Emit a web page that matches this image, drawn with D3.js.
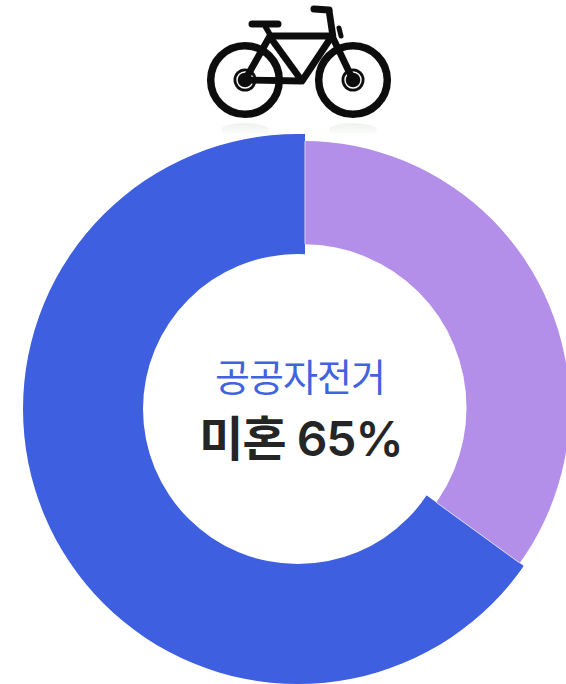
<!DOCTYPE html>
<html><head><meta charset="utf-8"><script src="https://cdn.jsdelivr.net/npm/d3@7"></script>
<style>html,body{margin:0;padding:0;background:#fff;overflow:hidden}svg{display:block}</style></head><body><svg id="c" width="566" height="684"></svg>
<script>
const categories=["미혼","기혼"];
const values=[65,35];
const colors=["#3d5fe0","#b48fe9"];
const centerTitle="공공자전거";
const centerValue="미혼 65%";
const svg=d3.select("#c");
const defs=svg.append("defs");
const ink="#111";
defs.append("filter").attr("id","soft").append("feGaussianBlur").attr("stdDeviation",0.45);
const bike=svg.append("g").attr("filter","url(#soft)");
const shade=defs.append("linearGradient").attr("id","sh").attr("x1",0).attr("x2",0).attr("y1",0).attr("y2",1);
shade.append("stop").attr("offset",0).attr("stop-color","#eef2ee");shade.append("stop").attr("offset",1).attr("stop-color","#fff");
[[245,80],[353,80]].forEach(([x,y])=>{
 bike.append("ellipse").attr("cx",x).attr("cy",130).attr("rx",24).attr("ry",7).attr("fill","url(#sh)");
 bike.append("circle").attr("cx",x).attr("cy",y).attr("r",34.3).attr("fill","none").attr("stroke",ink).attr("stroke-width",7.5);
 bike.append("circle").attr("cx",x).attr("cy",y).attr("r",11.5).attr("fill",ink);
 bike.append("circle").attr("cx",x).attr("cy",y).attr("r",8).attr("fill","none").attr("stroke","#fff").attr("stroke-width",1.4);
});
const frame=[
 {p:[[245,80],[270,36],[332,36],[302,81],[245,80]],w:6.8},
 {p:[[270,37],[302,81]],w:6.8},
 {p:[[332,36],[353,80]],w:6.8},
 {p:[[329,10],[333,37]],w:6.8},
 {p:[[314,9],[329,10]],w:7,cap:"round"},
 {p:[[252,24],[278,24]],w:7,cap:"round"},
 {p:[[265,26],[272,38]],w:5.5},
 {p:[[339,28],[341,36]],w:5,cap:"round"}
];
const line=d3.line();
frame.forEach(f=>bike.append("path").attr("d",line(f.p)).attr("fill","none").attr("stroke",ink).attr("stroke-width",f.w).attr("stroke-linejoin","round").attr("stroke-linecap",f.cap||"butt"));
// donut: wedge apex differs slightly from the ring centres (exploded look)
const pie=d3.pie().sort(null).startAngle(-0.65*2*Math.PI).endAngle(0.35*2*Math.PI)(values);
const wedge=d3.arc().innerRadius(0).outerRadius(700);
const apex=[305,407];
const rings=[{c:[298,409],r0:155,r1:275},{c:[303,407.7],r0:163.5,r1:266.7}];
const full=d3.arc().startAngle(0).endAngle(2*Math.PI);
pie.forEach((d,i)=>{
 defs.append("clipPath").attr("id","w"+i).append("path").attr("transform",`translate(${apex})`).attr("d",wedge(d));
});
[1,0].forEach(i=>{
 const r=rings[i];
 svg.append("g").attr("clip-path",`url(#w${i})`).append("path").attr("transform",`translate(${r.c})`)
  .attr("d",full({innerRadius:r.r0,outerRadius:r.r1})).attr("fill",colors[i]);
});
// pale seam between the two segments
defs.append("clipPath").attr("id","seam").append("path").attr("transform",`translate(${rings[1].c})`).attr("d",full({innerRadius:rings[1].r0,outerRadius:rings[1].r1}));
svg.append("g").attr("clip-path","url(#seam)").append("path").attr("transform",`translate(${apex})`).attr("d",wedge(pie[1])).attr("fill","none").attr("stroke","#d8d4f6").attr("stroke-width",1);
svg.append("text").attr("x",300).attr("y",391).attr("text-anchor","middle").attr("font-family","Noto Sans CJK KR").attr("font-weight",400).attr("font-size",38).attr("letter-spacing",-1).attr("fill","#4263de").text(centerTitle);
svg.append("text").attr("x",301).attr("y",456).attr("text-anchor","middle").attr("font-family","Inter,'Noto Sans CJK KR'").attr("font-weight",600).attr("font-size",48).attr("letter-spacing",-1).attr("fill","#252525").text(centerValue);
</script></body></html>
